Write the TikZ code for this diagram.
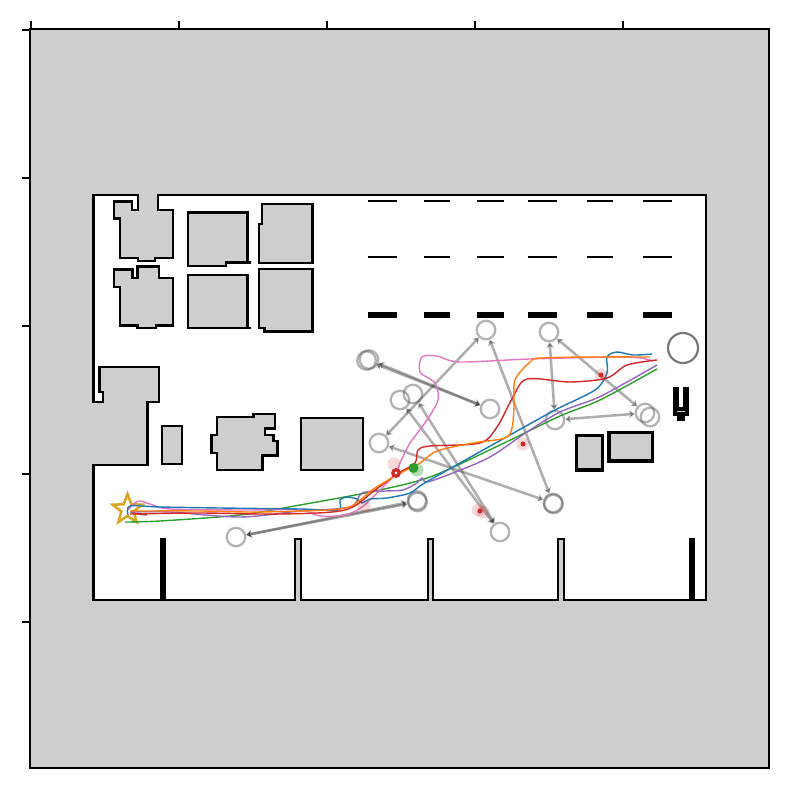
\documentclass[tikz,border=0pt]{standalone}
\usetikzlibrary{arrows.meta,shapes.geometric}

\definecolor{mapgray}{HTML}{CECECE}
\definecolor{goldstar}{HTML}{DAA520}
\definecolor{tabblue}{HTML}{1F77B4}
\definecolor{taborange}{HTML}{FF7F0E}
\definecolor{tabgreen}{HTML}{2CA02C}
\definecolor{tabred}{HTML}{D62728}
\definecolor{tabpurple}{HTML}{9467BD}
\definecolor{tabpink}{HTML}{E377C2}
\definecolor{tabbrown}{HTML}{8C564B}

\tikzset{
    wall/.style={draw=black,line width=.72pt,line join=miter,fill=mapgray},
    slab/.style={black,line width=#1},
    waypoint/.style={circle,draw=black!70,draw opacity=.42,line width=.65pt,minimum size=.185cm,inner sep=0pt},
    leg/.style={draw=black!75,opacity=.42,line width=.72pt},
    track/.style={line width=.4pt,#1},
    halo/.style={circle,fill=tabred,fill opacity=.18,minimum size=.13cm,inner sep=0pt},
    dot/.style={circle,fill=#1,minimum size=.05cm,inner sep=0pt},
}

\begin{document}
\begin{tikzpicture}[x=.01cm,y=-.01cm,>={Stealth[length=1.6pt,width=2.2pt]}]
    \useasboundingbox (0,0) rectangle (788,788);

    % map
    \fill[mapgray] (30,29) rectangle (769,768);
    \draw[line width=.55pt] (30,29) rectangle (769,768);
    \foreach \t in {31,179,327,475,623} {
        \draw[line width=.4pt] (\t,29) -- (\t,21);
    }
    \foreach \t in {30,178,326,474,622} {
        \draw[line width=.4pt] (30,\t) -- (22,\t);
    }
    \draw[wall,fill=white] (93.5,195) -- (138,195) -- (138,210) -- (132,210) -- (132,201.5) -- (114,201.5) -- (114,218.5) -- (120,218.5) -- (120,258) -- (138,258) -- (138,261) -- (155,261) -- (155,258) -- (173,258) -- (173,210) -- (158,210) -- (158,195)
        -- (706,195) -- (706,600) -- (693.5,600) -- (693.5,539) -- (690.5,539) -- (690.5,600) -- (564,600) -- (564,539) -- (558,539) -- (558,600) -- (433,600) -- (433,539) -- (428,539) -- (428,600) -- (301,600) -- (301,539) -- (295,539) -- (295,600) -- (164.5,600) -- (164.5,539) -- (161.5,539) -- (161.5,600) -- (93.5,600)
        -- (93.5,465) -- (147.5,465) -- (147.5,402) -- (159,402) -- (159,367) -- (99.5,367) -- (99.5,392) -- (103,392) -- (103,402) -- (93.5,402) -- cycle;
    \draw[wall] (188,212.5) -- (247.5,212.5) -- (247.5,262.5) -- (251,262.5) -- (226,262.5) -- (226,266) -- (188,266) -- cycle;
    \draw[wall] (262,204) -- (312.5,204) -- (312.5,263) -- (259,263) -- (259,224) -- (262,224) -- cycle;
    \draw[wall] (114,269.5) -- (132.5,269.5) -- (132.5,278) -- (137.5,278) -- (137.5,266.5) -- (159,266.5) -- (159,278) -- (173,278) -- (173,325.5) -- (156,325.5) -- (156,328) -- (137.5,328) -- (137.5,325.5) -- (120,325.5) -- (120,287) -- (114,287) -- cycle;
    \draw[wall] (188,275) -- (247.5,275) -- (247.5,328) -- (251,328) -- (188,328) -- cycle;
    \draw[wall] (259,269) -- (312.5,269) -- (312.5,331.5) -- (264.5,331.5) -- (264.5,328) -- (259,328) -- cycle;
    \draw[wall] (162,426) rectangle (182,464);
    \draw[wall] (217,417) -- (253.5,417) -- (253.5,414) -- (275,414) -- (275,428.5) -- (265,428.5) -- (265,435) -- (273.5,435) -- (273.5,441) -- (277.5,441) -- (277.5,455.5) -- (262.5,455.5) -- (262.5,470) -- (217,470) -- (217,453) -- (211.5,453) -- (211.5,435) -- (217,435) -- cycle;
    \draw[wall] (301,418) rectangle (363,470);
    \draw[wall,line width=.95pt] (576.5,435.5) rectangle (602.5,470);
    \draw[wall,line width=.95pt] (609,432.5) rectangle (652.5,461);
    \draw[wall,line width=1.1pt] (675,388.5) -- (677.5,388.5) -- (677.5,409) -- (684.5,409) -- (684.5,388.5) -- (687,388.5) -- (687,414) -- (683,414) -- (683,419) -- (679,419) -- (679,414) -- (675,414) -- cycle;
    \foreach \y/\w in {201/.6pt,257/.6pt,315/1.5pt} {
        \foreach \a/\b in {368/397,424/450,477/504,528/557,587/613,643/672} {
            \draw[slab=\w] (\a,\y) -- (\b,\y);
        }
    }

    % waypoints
    \node[waypoint] (a) at (369,359.5) {};
    \node[waypoint] (a2) at (366.5,360.5) {};
    \node[waypoint] (b) at (490,409) {};
    \node[waypoint] (c) at (486,330) {};
    \node[waypoint] (d) at (549,332) {};
    \node[waypoint] (e) at (400,400) {};
    \node[waypoint] (f) at (413,394) {};
    \node[waypoint] (g) at (379,443) {};
    \node[waypoint] (h) at (555,420) {};
    \node[waypoint] (i) at (645,413) {};
    \node[waypoint] (j) at (650,417) {};
    \node[waypoint] (k) at (553,503) {};
    \node[waypoint] (k2) at (553.5,504) {};
    \node[waypoint] (l) at (500,532) {};
    \node[waypoint] (m) at (417,500.5) {};
    \node[waypoint] (m2) at (417.5,502) {};
    \node[waypoint] (n) at (236,537) {};
    \node[circle,draw=black!75,draw opacity=.7,line width=.62pt,minimum size=.3cm,inner sep=0pt] (o) at (683,348) {};

    \path[<->,leg] (a) edge (b);
    \path[<->,leg] (a2) edge (b);
    \path[<->,leg] (g) edge (c);
    \path[<->,leg] (c) edge (k);
    \path[<->,leg] (k) edge (g);
    \path[<->,leg] (d) edge (h);
    \path[<->,leg] (d) edge (i);
    \path[<->,leg] (h) edge (i);
    \path[<->,leg] (e) edge (l);
    \path[<->,leg] (f) edge (l);
    \path[<->,leg] (m) edge (n);
    \path[<->,leg] (m2) edge (n);

    % goal
    \node[star,star points=5,star point ratio=2.4,draw=goldstar,line width=.72pt,minimum size=.31cm,inner sep=0pt] (goal) at (127.5,509.5) {};

    % tracks
    \draw[track=tabbrown] plot[smooth] coordinates {(131,512) (138,514) (147,515)};
    \draw[track=tabgreen] plot[smooth,tension=.5] coordinates {(125,522) (160,521) (240,515) (300,505) (370,492) (430,477) (500,445) (560,416) (600,400) (657,369)};
    \draw[track=tabpurple] plot[smooth,tension=.5] coordinates {(130,512) (170,512) (240,517) (300,511) (350,507) (362,493) (385,491) (403,490) (417,483) (422,478) (427,482) (453,473) (490,457) (527,432) (560,412) (597,398) (627,382) (657,365)};
    \draw[track=tabpink] plot[smooth,tension=.5] coordinates {(128,510) (138,501) (150,504) (170,509) (240,510) (300,510) (320,516) (345,515) (362,507) (380,490) (396,473) (400,463) (410,443) (427,420) (438,400) (435,383) (420,372) (422,357) (437,356) (460,362) (530,359) (627,357) (653,361)};
    \draw[track=tabblue] plot[smooth,tension=.5] coordinates {(128,515) (130,506) (160,507) (220,508) (300,509) (338,510) (340,500) (347,497) (357,499) (362,503) (370,499) (387,498) (410,493) (423,484) (460,463) (510,435) (555,410) (595,390) (607,373) (607,357) (617,352) (633,355) (652,354)};
    \draw[track=tabred] plot[smooth,tension=.5] coordinates {(130,514) (200,513) (280,514) (345,510) (375,490) (397,474) (415,463) (418,450) (430,446) (480,443) (497,427) (513,397) (527,379) (570,382) (607,378) (627,365) (657,360)};
    \draw[track=taborange] plot[smooth,tension=.5] coordinates {(130,511) (200,511) (260,512) (340,509) (360,500) (372,490) (397,475) (420,463) (437,451) (473,443) (505,438) (512,428) (514,407) (515,380) (530,362) (540,358) (593,357) (650,357)};

    % samples
    \node[halo] (s1) at (394,464) {};
    \node[circle,draw=tabred,fill=white,line width=.9pt,minimum size=.065cm,inner sep=0pt] (s2) at (396,473) {};
    \node[circle,fill=tabgreen,fill opacity=.35,minimum size=.13cm,inner sep=0pt] (s4) at (417,470) {};
    \node[circle,fill=tabgreen,minimum size=.1cm,inner sep=0pt] (s3) at (413.5,468) {};
    \node[halo] (s5) at (523,444) {};
    \node[dot=tabred] (s6) at (523,444) {};
    \node[halo] (s7) at (601,375) {};
    \node[dot=tabred] (s8) at (601,375) {};
    \node[halo] (s9) at (478,510) {};
    \node[halo] (s10) at (483,512) {};
    \node[dot=tabred] (s11) at (480,511) {};
    \node[halo] (s12) at (364,506) {};
\end{tikzpicture}
\end{document}
